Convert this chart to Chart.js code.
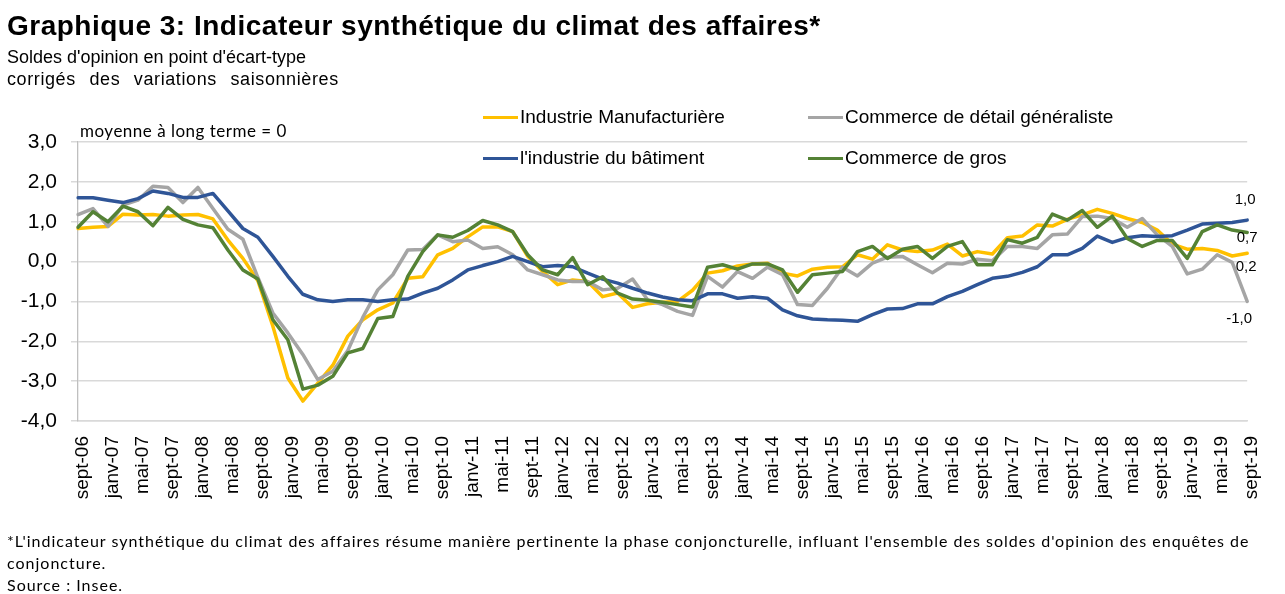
<!DOCTYPE html>
<html lang="fr">
<head>
<meta charset="utf-8">
<title>Graphique 3 - Climat des affaires</title>
<script src="https://cdn.jsdelivr.net/npm/chart.js@4.4.0/dist/chart.umd.min.js"></script>
<style>
    html, body { margin: 0; padding: 0; background: #fff; }
    #page { position: relative; width: 1285px; height: 594px; overflow: hidden; font-family: 'Liberation Sans', Arial, sans-serif; color: #000; }
    #chart { position: absolute; left: 0; top: 0; }
    .title { position: absolute; left: 7px; top: 10px; font-weight: bold; font-size: 28px; letter-spacing: 0.5px; white-space: nowrap; }
    .subtitle { position: absolute; left: 7px; font-size: 18px; line-height: 22px; white-space: nowrap; }
    .avg { position: absolute; left: 80px; top: 120px; font-family: Lato, sans-serif; font-size: 17px; letter-spacing: 0.5px; white-space: nowrap; }
    .legend-item { position: absolute; font-size: 19px; line-height: 22px; white-space: nowrap; }
    .legend-item .swatch { display: inline-block; width: 35px; height: 3px; vertical-align: middle; margin-right: 2px; }
    .note { position: absolute; left: 7px; font-family: Lato, sans-serif; font-size: 16px; line-height: 22px; white-space: nowrap; letter-spacing: 1px; }
</style>
</head>
<body>
<div id="page">
    <canvas id="chart" width="1285" height="594"></canvas>
    <div class="title">Graphique 3: Indicateur synthétique du climat des affaires*</div>
    <div class="subtitle" style="top: 46px;">Soldes d'opinion en point d'écart-type</div>
    <div class="subtitle" style="top: 68px; letter-spacing: 0.6px; word-spacing: 8px;">corrigés des variations saisonnières</div>
    <div class="avg">moyenne à long terme = 0</div>
    <div id="legend"></div>
    <div class="note" style="top: 530px;">*L'indicateur synthétique du climat des affaires résume manière pertinente  la phase conjoncturelle, influant l'ensemble des soldes d'opinion des enquêtes de</div>
    <div class="note" style="top: 552px;">conjoncture.</div>
    <div class="note" style="top: 574px;">Source : Insee.</div>
</div>
<script>
// Bimonthly observations, sept-06 .. sept-19
const categories = [
    'sept-06', 'nov-06',
    'janv-07', 'mars-07', 'mai-07', 'juil-07', 'sept-07', 'nov-07',
    'janv-08', 'mars-08', 'mai-08', 'juil-08', 'sept-08', 'nov-08',
    'janv-09', 'mars-09', 'mai-09', 'juil-09', 'sept-09', 'nov-09',
    'janv-10', 'mars-10', 'mai-10', 'juil-10', 'sept-10', 'nov-10',
    'janv-11', 'mars-11', 'mai-11', 'juil-11', 'sept-11', 'nov-11',
    'janv-12', 'mars-12', 'mai-12', 'juil-12', 'sept-12', 'nov-12',
    'janv-13', 'mars-13', 'mai-13', 'juil-13', 'sept-13', 'nov-13',
    'janv-14', 'mars-14', 'mai-14', 'juil-14', 'sept-14', 'nov-14',
    'janv-15', 'mars-15', 'mai-15', 'juil-15', 'sept-15', 'nov-15',
    'janv-16', 'mars-16', 'mai-16', 'juil-16', 'sept-16', 'nov-16',
    'janv-17', 'mars-17', 'mai-17', 'juil-17', 'sept-17', 'nov-17',
    'janv-18', 'mars-18', 'mai-18', 'juil-18', 'sept-18', 'nov-18',
    'janv-19', 'mars-19', 'mai-19', 'juil-19', 'sept-19'
];

const industrieManuf = [
    0.83, 0.86, 0.88, 1.19, 1.17, 1.18, 1.14, 1.17, 1.18, 1.07,
    0.54, 0.08, -0.48, -1.62, -2.92, -3.5, -3.05, -2.6, -1.87, -1.46,
    -1.21, -1.04, -0.42, -0.38, 0.17, 0.33, 0.62, 0.87, 0.87, 0.75,
    0.13, -0.25, -0.58, -0.46, -0.5, -0.88, -0.79, -1.15, -1.06, -1.02,
    -1.0, -0.72, -0.29, -0.23, -0.11, -0.06, -0.04, -0.29, -0.36, -0.19,
    -0.14, -0.13, 0.17, 0.06, 0.42, 0.29, 0.25, 0.29, 0.44, 0.14,
    0.25, 0.19, 0.6, 0.64, 0.92, 0.89, 1.06, 1.17, 1.31, 1.21,
    1.08, 0.98, 0.79, 0.44, 0.31, 0.33, 0.28, 0.14, 0.21
];

const commerceDetail = [
    1.18, 1.33, 0.88, 1.42, 1.54, 1.89, 1.86, 1.48, 1.86, 1.33,
    0.81, 0.56, -0.4, -1.29, -1.79, -2.33, -2.96, -2.75, -2.23, -1.4,
    -0.71, -0.33, 0.29, 0.3, 0.67, 0.5, 0.54, 0.33, 0.37, 0.17,
    -0.21, -0.33, -0.46, -0.5, -0.5, -0.71, -0.67, -0.44, -0.96, -1.08,
    -1.25, -1.35, -0.37, -0.64, -0.25, -0.42, -0.14, -0.33, -1.08, -1.1,
    -0.67, -0.14, -0.36, -0.04, 0.11, 0.13, -0.08, -0.28, -0.04, -0.06,
    0.06, 0.02, 0.38, 0.38, 0.33, 0.67, 0.69, 1.13, 1.14, 1.08,
    0.86, 1.08, 0.67, 0.38, -0.31, -0.19, 0.17, -0.02, -1.0
];

const batiment = [
    1.6, 1.6, 1.54, 1.48, 1.58, 1.77, 1.71, 1.61, 1.61, 1.71,
    1.27, 0.83, 0.61, 0.13, -0.37, -0.82, -0.96, -1.0, -0.96, -0.96,
    -1.0, -0.96, -0.94, -0.79, -0.67, -0.46, -0.21, -0.1, 0.0, 0.13,
    0.0, -0.13, -0.1, -0.13, -0.29, -0.44, -0.54, -0.67, -0.79, -0.89,
    -0.96, -0.98, -0.81, -0.81, -0.92, -0.88, -0.92, -1.21, -1.36, -1.44,
    -1.46, -1.47, -1.5, -1.33, -1.19, -1.18, -1.06, -1.06, -0.88, -0.75,
    -0.58, -0.42, -0.37, -0.27, -0.13, 0.17, 0.17, 0.33, 0.64, 0.48,
    0.6, 0.65, 0.63, 0.65, 0.79, 0.94, 0.96, 0.98, 1.04
];

const commerceGros = [
    0.86, 1.25, 1.0, 1.39, 1.25, 0.9, 1.36, 1.06, 0.92, 0.85,
    0.29, -0.21, -0.44, -1.46, -1.96, -3.2, -3.1, -2.88, -2.29, -2.18,
    -1.43, -1.38, -0.37, 0.25, 0.67, 0.61, 0.78, 1.03, 0.92, 0.75,
    0.17, -0.21, -0.33, 0.1, -0.58, -0.38, -0.79, -0.94, -0.97, -1.02,
    -1.08, -1.14, -0.14, -0.08, -0.19, -0.06, -0.06, -0.21, -0.77, -0.33,
    -0.29, -0.25, 0.25, 0.38, 0.08, 0.31, 0.38, 0.08, 0.38, 0.5,
    -0.08, -0.08, 0.55, 0.46, 0.61, 1.19, 1.04, 1.28, 0.86, 1.14,
    0.58, 0.38, 0.53, 0.53, 0.08, 0.75, 0.92, 0.79, 0.73
];

const seriesNames = ['Industrie Manufacturière', 'Commerce de détail généraliste', "l'industrie du bâtiment", 'Commerce de gros'];

Chart.defaults.font.family = "'Liberation Sans', Arial, sans-serif";
Chart.defaults.color = '#000';

function fmt(v) {
    return v.toFixed(1).replace('.', ',');
}

// value labels at the end of each line
const endLabels = {
    id: 'endLabels',
    afterDatasetsDraw: function(chart) {
        const ctx = chart.ctx;
        const shift = [[-1, 14], [-8, 17], [-2, -20], [0, 5]];
        ctx.save();
        ctx.font = "15px 'Liberation Sans', Arial, sans-serif";
        ctx.fillStyle = '#000';
        ctx.textAlign = 'center';
        ctx.textBaseline = 'middle';
        chart.data.datasets.forEach(function(ds, i) {
            const meta = chart.getDatasetMeta(i);
            const last = meta.data[meta.data.length - 1];
            ctx.fillText(fmt(ds.data[ds.data.length - 1]), last.x + shift[i][0], last.y + shift[i][1]);
        });
        ctx.restore();
    }
};

const ctx = document.getElementById('chart').getContext('2d');
const chart = new Chart(ctx, {
    type: 'line',
    data: {
        labels: categories,
        datasets: [
            { label: seriesNames[0], data: industrieManuf, borderColor: '#FFC000', order: 4 },
            { label: seriesNames[1], data: commerceDetail, borderColor: '#A5A5A5', order: 3 },
            { label: seriesNames[2], data: batiment, borderColor: '#2F5597', order: 2 },
            { label: seriesNames[3], data: commerceGros, borderColor: '#548235', order: 1 }
        ]
    },
    options: {
        responsive: false,
        animation: false,
        layout: {
            padding: { left: 0, top: 142, right: 14, bottom: 93 }
        },
        elements: {
            line: { borderWidth: 3.5, tension: 0, fill: false, borderCapStyle: 'round', borderJoinStyle: 'round' },
            point: { radius: 0, hoverRadius: 0 }
        },
        scales: {
            x: {
                grid: { display: false, drawTicks: false },
                border: { color: '#d9d9d9', width: 1.5 },
                afterFit: function(scale) { scale.height = 80; },
                ticks: {
                    autoSkip: false,
                    minRotation: 90,
                    maxRotation: 90,
                    padding: 15,
                    labelOffset: 5,
                    font: { size: 19 },
                    callback: function(value, index) {
                        return index % 2 === 0 ? categories[index] : '';
                    }
                }
            },
            y: {
                min: -4,
                max: 3,
                afterFit: function(scale) { scale.width = 78; },
                grid: { color: '#d9d9d9', lineWidth: 1.5, tickLength: 7 },
                border: { color: '#bfbfbf', width: 1.3 },
                ticks: {
                    stepSize: 1,
                    padding: 14,
                    font: { size: 21 },
                    callback: function(value) {
                        return fmt(value);
                    }
                }
            }
        },
        plugins: {
            legend: { display: false },
            tooltip: { enabled: false }
        }
    },
    plugins: [endLabels]
});

// Legend: two rows, two columns, laid over the top of the plot
const legendSpots = [[483, 106], [808, 106], [483, 147], [808, 147]];
const legendBox = document.getElementById('legend');
chart.data.datasets.forEach(function(ds, i) {
    const item = document.createElement('div');
    item.className = 'legend-item';
    item.style.left = legendSpots[i][0] + 'px';
    item.style.top = legendSpots[i][1] + 'px';
    item.innerHTML = '<span class="swatch" style="background:' + ds.borderColor + '"></span>' + ds.label;
    legendBox.appendChild(item);
});
</script>
</body>
</html>
